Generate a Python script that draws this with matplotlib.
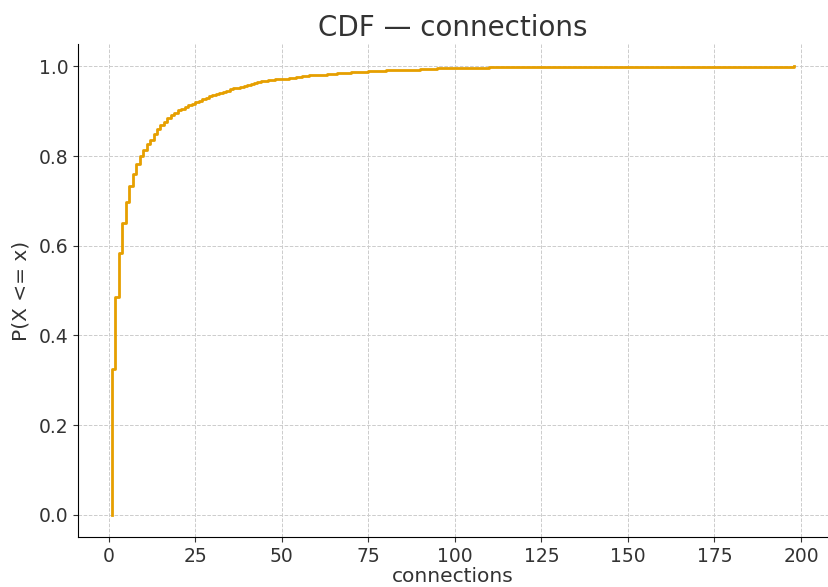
import matplotlib.pyplot as plt

# step positions (connections) and the cumulative probability reached at each
connections = [1, 1, 2, 3, 4, 5, 6, 7, 8, 9, 10, 11, 12, 13, 14, 15, 16, 17, 18, 19,
               20, 21, 22, 23, 24, 25, 26, 27, 28, 29, 30, 31, 32, 33, 34, 35, 36,
               37, 38, 39, 40, 41, 42, 43, 44, 45, 46, 47, 48, 49, 50, 52, 54, 56,
               58, 60, 63, 66, 70, 75, 80, 85, 90, 95, 100, 110, 120, 135, 160, 198]
cdf = [0.0, 0.325, 0.485, 0.584, 0.651, 0.698, 0.733, 0.761, 0.783, 0.800, 0.813,
       0.826, 0.837, 0.849, 0.861, 0.870, 0.877, 0.884, 0.891, 0.896,
       0.902, 0.906, 0.910, 0.913, 0.917, 0.921, 0.924, 0.927, 0.930, 0.933,
       0.936, 0.939, 0.941, 0.944, 0.946, 0.949, 0.951, 0.953, 0.955, 0.957,
       0.959, 0.961, 0.963, 0.965, 0.967, 0.968, 0.969, 0.970, 0.971, 0.972,
       0.973, 0.975, 0.977, 0.979, 0.980, 0.982, 0.984, 0.986, 0.988, 0.990,
       0.992, 0.993, 0.995, 0.996, 0.997, 0.998, 0.999, 0.9995, 0.9997, 1.0]

fig = plt.figure(figsize=(8.29, 5.87), dpi=100)
ax = fig.add_axes([0.094, 0.085, 0.905, 0.84])
ax.step(connections, cdf, where='post', color='#E69F00', linewidth=2)

ax.set_title('CDF — connections', fontsize=20, color='#333333', pad=6)
ax.set_xlabel('connections', fontsize=14.5, color='#333333', labelpad=1)
ax.set_ylabel('P(X <= x)', fontsize=14.5, color='#333333', labelpad=6)
ax.set_xticks([0, 25, 50, 75, 100, 125, 150, 175, 200])
ax.tick_params(labelsize=13.5, colors='#333333')
ax.grid(True, linestyle='--', color='#cccccc', linewidth=0.7)
ax.spines['top'].set_visible(False)
ax.spines['right'].set_visible(False)

fig.savefig('out.png', dpi=100)
